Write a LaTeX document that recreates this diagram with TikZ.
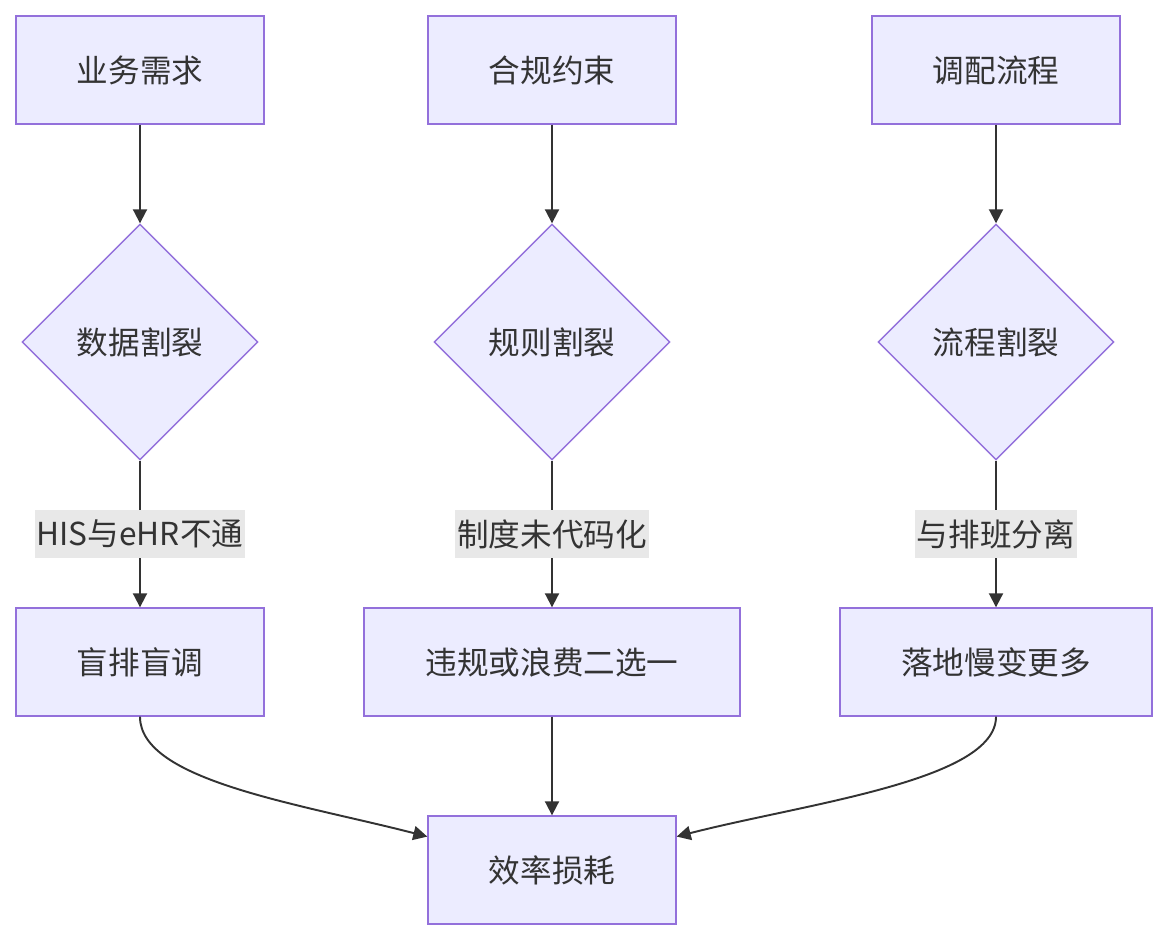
\documentclass[tikz,border=0pt]{standalone}
\usepackage{fontspec}
\setmainfont{Noto Sans CJK SC}
\usetikzlibrary{
  calc,
  positioning,
  arrows.meta,
  shapes.geometric}
\definecolor{boxfill}{HTML}{ECECFF}
\definecolor{boxline}{HTML}{9370DB}
\definecolor{ink}{HTML}{333333}
\definecolor{tagfill}{HTML}{E8E8E8}

\begin{document}
\begin{tikzpicture}[
  x=0.02cm,
  y=-0.02cm,
  >={Triangle[length=8pt,width=8pt]},
  line width=1.1pt,
  every node/.style={text=ink,font=\fontsize{18}{22}\selectfont},
  stepbox/.style={draw=boxline,fill=boxfill,line width=0.8pt,minimum width=4.96cm,minimum height=2.16cm},
  splitbox/.style={diamond,draw=boxline,fill=boxfill,line width=0.8pt,minimum size=4.72cm,inner sep=0pt},
  tag/.style={fill=tagfill,inner xsep=1pt,inner ysep=0pt,minimum height=0.96cm},
  link/.style={->,draw=ink}
]%
  \useasboundingbox (0,0) rectangle (1168,940);

  \node (sA) [stepbox] at (140,70)  {业务需求};
  \node (sB) [stepbox] at (552,70)  {合规约束};
  \node (sC) [stepbox] at (996,70)  {调配流程};

  \node (dA) [splitbox] at (140,342) {数据割裂};
  \node (dB) [splitbox] at (552,342) {规则割裂};
  \node (dC) [splitbox] at (996,342) {流程割裂};

  \node (tA) [stepbox] at (140,662) {盲排盲调};
  \node (tB) [stepbox,minimum width=7.52cm] at (552,662) {违规或浪费二选一};
  \node (tC) [stepbox,minimum width=6.24cm] at (996,662) {落地慢变更多};

  \node (mE) [stepbox] at (552,870) {效率损耗};

  \draw[link] (sA) -- (dA);
  \draw[link] (sB) -- (dB);
  \draw[link] (sC) -- (dC);

  \draw[link] (dA) -- node[tag] {HIS与eHR不通} (tA);
  \draw[link] (dB) -- node[tag] {制度未代码化} (tB);
  \draw[link] (dC) -- node[tag] {与排班分离} (tC);

  \draw[link] (tA.south) .. controls +(0,64) and +(-128,-33) .. (mE.165);
  \draw[link] (tB) -- (mE);
  \draw[link] (tC.south) .. controls +(0,64) and +(128,-33) .. (mE.15);

\end{tikzpicture}
\end{document}
